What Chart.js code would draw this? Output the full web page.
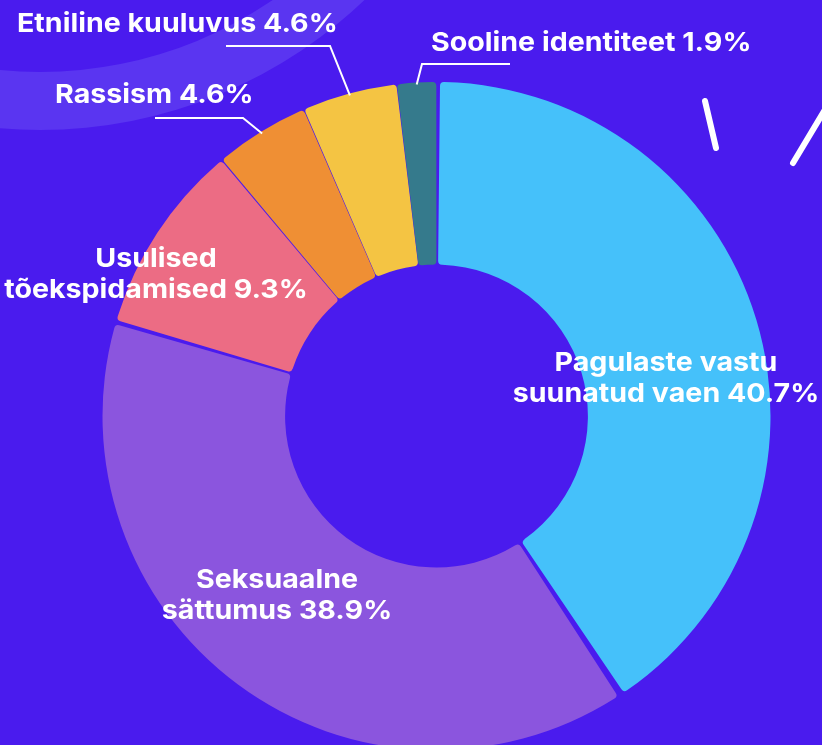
<!DOCTYPE html>
<html>
<head>
<meta charset="utf-8">
<script src="https://cdn.jsdelivr.net/npm/chart.js@4.4.1/dist/chart.umd.min.js"></script>
<style>
  html, body { margin: 0; padding: 0; background: #4a1bee; overflow: hidden; }
  #wrap { position: relative; width: 822px; height: 751px; }
</style>
</head>
<body>
<div id="wrap"><canvas id="hateChart"></canvas></div>
<script>
'use strict';

/* ── Data ─────────────────────────────────── */
const CATEGORIES = [
  ['Pagulaste vastu', 'suunatud vaen'],
  ['Seksuaalne', 'sättumus'],
  ['Usulised', 'tõekspidamised'],
  ['Rassism'],
  ['Etniline kuuluvus'],
  ['Sooline identiteet'],
];
const SHARES = [40.7, 38.9, 9.3, 4.6, 4.6, 1.9];
const COLORS = ['#45c1fa', '#8b55de', '#ec6c84', '#ef8f34', '#f4c443', '#357a8c'];

/* ── Look ─────────────────────────────────── */
const BG     = '#4a1bee';
const FONT   = "700 26px 'Inter', sans-serif";
const STRETCH = 1.1;   // Inter is narrower than the original geometric face
const LINE_H = 31;

// label placement: inside labels are centred, outside labels get a leader line
const LABEL_LAYOUT = [
  { x: 666, y: 371, align: 'center' },
  { x: 277, y: 588, align: 'center' },
  { x: 156, y: 267, align: 'center' },
  { x: 55,  y: 103, align: 'left', elbow: [243, 118], tail: 155 },
  { x: 17,  y: 32,  align: 'left', elbow: [330, 46],  tail: 226 },
  { x: 431, y: 51,  align: 'left', elbow: [422, 64],  tail: 510 },
];

function fmt(n) { return n.toFixed(1) + '%'; }

/* ── Background decoration ────────────────── */
const decoPlugin = {
  id: 'deco',
  beforeDraw(chart) {
    const ctx = chart.ctx;
    ctx.save();
    ctx.fillStyle = BG;
    ctx.fillRect(0, 0, chart.width, chart.height);

    // faint ring in the top-left corner
    ctx.beginPath();
    ctx.arc(40, -340, 470, 0, Math.PI * 2);
    ctx.arc(40, -340, 412, 0, Math.PI * 2, true);
    ctx.fillStyle = '#5a35f1';
    ctx.fill();

    // two white strokes, top right
    ctx.strokeStyle = '#ffffff';
    ctx.lineWidth = 6;
    ctx.lineCap = 'round';
    ctx.beginPath();
    ctx.moveTo(705, 101); ctx.lineTo(716, 148);
    ctx.moveTo(793, 163); ctx.lineTo(832, 98);
    ctx.stroke();
    ctx.restore();
  },
};

/* ── Labels + leader lines ────────────────── */
const labelPlugin = {
  id: 'sliceLabels',
  afterDatasetsDraw(chart) {
    const ctx  = chart.ctx;
    const arcs = chart.getDatasetMeta(0).data;
    ctx.save();
    ctx.font = FONT;
    ctx.fillStyle = '#ffffff';
    ctx.textBaseline = 'alphabetic';

    arcs.forEach((arc, i) => {
      const lay   = LABEL_LAYOUT[i];
      const lines = CATEGORIES[i].slice();
      lines[lines.length - 1] += ' ' + fmt(SHARES[i]);

      if (lay.elbow) {
        const mid = (arc.startAngle + arc.endAngle) / 2;
        const ax  = arc.x + Math.cos(mid) * arc.outerRadius;
        const ay  = arc.y + Math.sin(mid) * arc.outerRadius;
        ctx.strokeStyle = '#ffffff';
        ctx.lineWidth = 2;
        ctx.beginPath();
        ctx.moveTo(ax, ay);
        ctx.lineTo(lay.elbow[0], lay.elbow[1]);
        ctx.lineTo(lay.tail, lay.elbow[1]);
        ctx.stroke();
      }

      ctx.textAlign = lay.align;
      lines.forEach((t, k) => {
        ctx.save();
        ctx.translate(lay.x, lay.y + k * LINE_H);
        ctx.scale(STRETCH, 1);
        ctx.fillText(t, 0, 0);
        ctx.restore();
      });
    });
    ctx.restore();
  },
};

/* ── Chart ────────────────────────────────── */
new Chart(document.getElementById('hateChart'), {
  type: 'doughnut',
  data: {
    labels: CATEGORIES.map(c => c.join(' ')),
    datasets: [{
      data            : SHARES,
      backgroundColor : COLORS,
      borderWidth     : 0,
      borderRadius    : 4,
      spacing         : 4,
      hoverOffset     : 0,
    }],
  },
  options: {
    responsive          : true,
    maintainAspectRatio : false,
    animation           : false,
    events              : [],
    radius              : 332,
    cutout              : '45%',
    layout: { padding: { left: 101, right: 50, top: 81, bottom: 0 } },
    plugins: {
      legend : { display: false },
      tooltip: { enabled: false },
    },
  },
  plugins: [decoPlugin, labelPlugin],
});
</script>
</body>
</html>
